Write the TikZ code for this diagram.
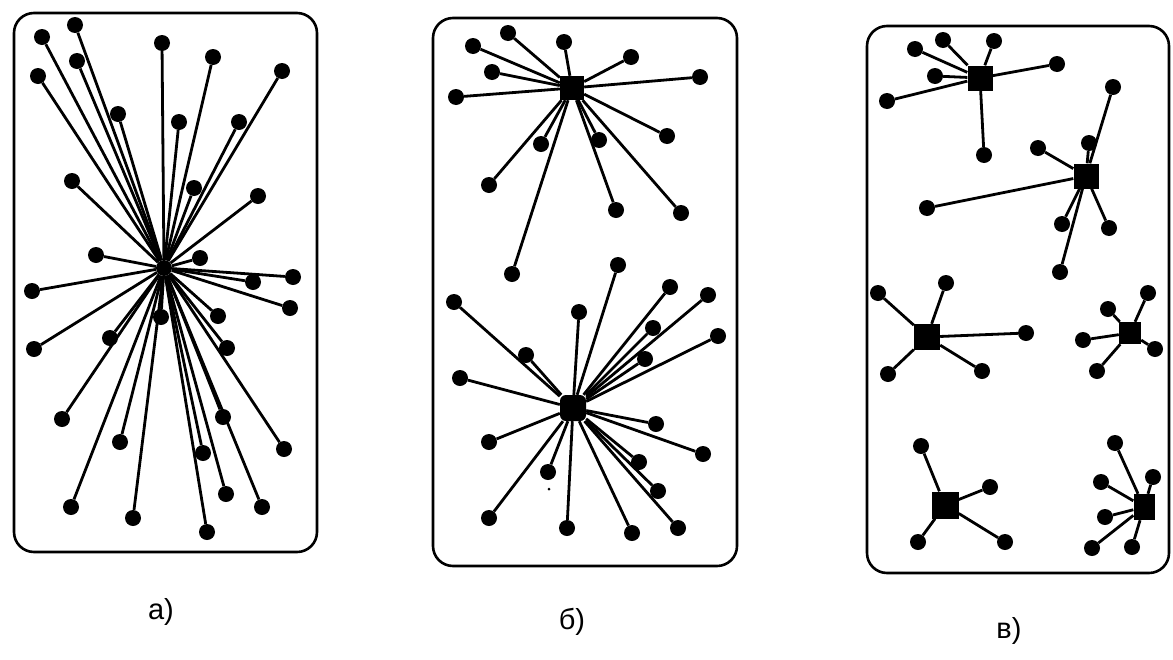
\documentclass[tikz,border=0pt]{standalone}
\usepackage{fontspec}
\setmainfont{Liberation Sans}
\begin{document}
\begin{tikzpicture}[x=1pt,y=-1pt,
  dot/.style={circle,fill=black,inner sep=0pt,minimum size=16pt},
  tiny/.style={circle,fill=black,inner sep=0pt,minimum size=3pt},
  hubsq/.style={rectangle,fill=black,inner sep=0pt,minimum width=#1,minimum height=#1},
  link/.style={line width=2.8pt},
  frame/.style={line width=2.6pt,rounded corners=20pt},
  lab/.style={font=\fontsize{29}{31}\selectfont}]
\useasboundingbox (0,0) rectangle (1173,659);
% frames
\draw[frame] (14,13) rectangle (317,552);
\draw[frame] (433,18) rectangle (737,566);
\draw[frame] (867,26) rectangle (1169,573);
% panel a
\node[circle,fill=black,inner sep=0pt,minimum size=16pt] (ahub) at (164,268) {};
\foreach \x/\y [count=\i] in {42/37,75/25,162/43,213/57,282/71,77/61,38/76,118/114,179/122,239/122,72/181,194/188,258/196,96/255,200/258,293/277,32/291,253/282,290/308,34/349,110/338,161/317,218/316,227/348,62/419,120/442,223/417,284/449,203/453,71/507,133/518,226/494,262/507,207/532}{
  \node[dot] (a\i) at (\x,\y) {};
  \draw[link] (ahub) -- (a\i);
}
% panel b, upper cluster
\node[hubsq=24pt] (bhub1) at (572,88) {};
\foreach \x/\y [count=\i] in {473/46,508/33,564/42,631/57,492/72,700/77,456/97,667/136,541/144,599/140,489/185,616/210,681/213,512/274}{
  \node[dot] (b\i) at (\x,\y) {};
  \draw[link] (bhub1) -- (b\i);
}
% panel b, lower cluster
\node[hubsq=26pt,rounded corners=6pt] (bhub2) at (573,408) {};
\foreach \x/\y [count=\i] in {618/265,670/287,708/295,454/302,579/312,653/328,718/336,526/355,645/359,460/378,656/424,489/442,703/454,639/462,548/472,658/491,489/518,567/528,632/533,678/528}{
  \node[dot] (bb\i) at (\x,\y) {};
  \draw[link] (bhub2) -- (bb\i);
}
\node[tiny] (speck) at (549,489) {};
% panel c clusters
\node[hubsq=25pt] (c1) at (980,78) {};
\foreach \x/\y [count=\i] in {915/49,943/40,994/41,935/76,887/101,1057/64,984/155}{
  \node[dot] (c1d\i) at (\x,\y) {};
  \draw[link] (c1) -- (c1d\i);
}
\node[hubsq=25pt] (c2) at (1086,176) {};
\foreach \x/\y [count=\i] in {1113/87,1038/148,1089/143,927/208,1062/224,1109/228,1060/272}{
  \node[dot] (c2d\i) at (\x,\y) {};
  \draw[link] (c2) -- (c2d\i);
}
\node[hubsq=26pt] (c3) at (927,337) {};
\foreach \x/\y [count=\i] in {878/293,946/283,1026/333,888/374,982/371}{
  \node[dot] (c3d\i) at (\x,\y) {};
  \draw[link] (c3) -- (c3d\i);
}
\node[hubsq=22pt] (c4) at (1130,333) {};
\foreach \x/\y [count=\i] in {1148/293,1108/309,1083/340,1155/349,1097/371}{
  \node[dot] (c4d\i) at (\x,\y) {};
  \draw[link] (c4) -- (c4d\i);
}
\node[hubsq=27pt] (c5) at (945,505) {};
\foreach \x/\y [count=\i] in {921/446,990/487,918/542,1005/542}{
  \node[dot] (c5d\i) at (\x,\y) {};
  \draw[link] (c5) -- (c5d\i);
}
\node[rectangle,fill=black,inner sep=0pt,minimum width=21pt,minimum height=26pt] (c6) at (1144,507) {};
\foreach \x/\y [count=\i] in {1115/443,1153/477,1101/482,1105/517,1092/548,1132/547}{
  \node[dot] (c6d\i) at (\x,\y) {};
  \draw[link] (c6) -- (c6d\i);
}
% labels
\node[lab] (la) at (161,612) {а)};
\node[lab] (lb) at (572,622) {б)};
\node[lab] (lc) at (1009,631) {в)};
\end{tikzpicture}
\end{document}
